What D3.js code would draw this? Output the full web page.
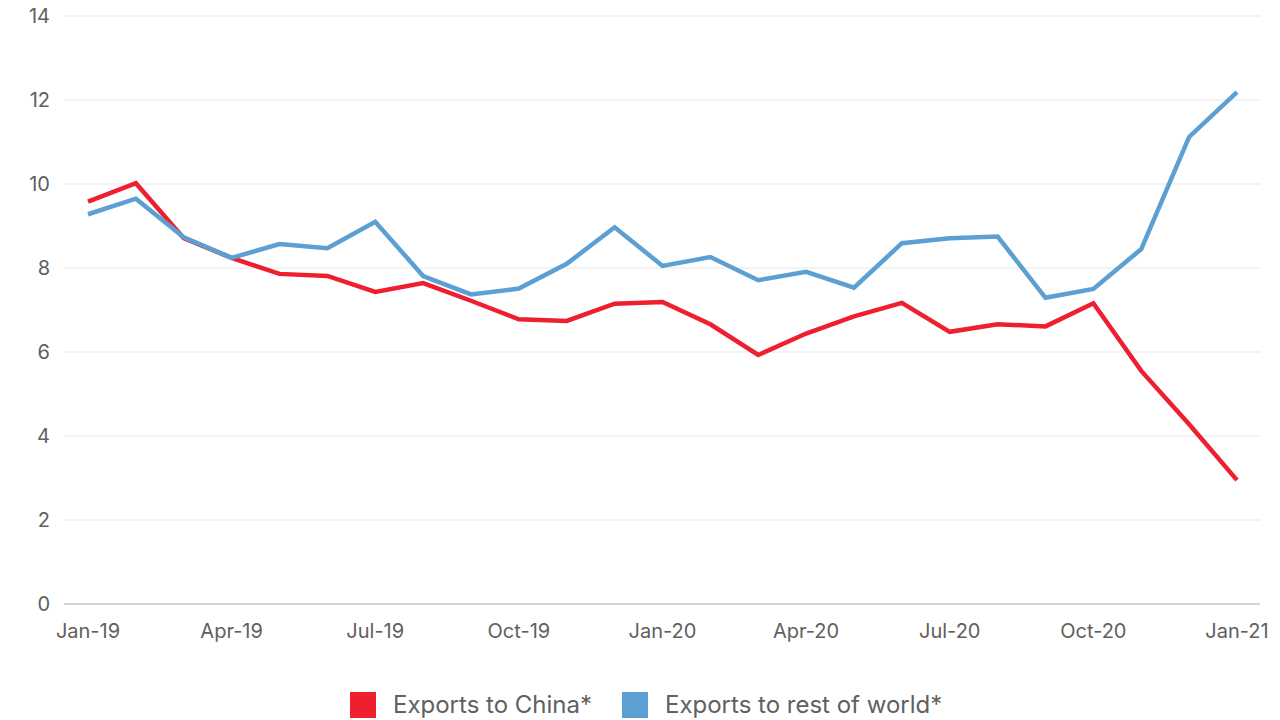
<!DOCTYPE html>
<html><head><meta charset="utf-8">
<script src="https://cdn.jsdelivr.net/npm/d3@7"></script>
<style>
html,body{margin:0;padding:0;background:#fff;}
svg text{font-family:Inter,"Open Sans",sans-serif;fill:#606060;}
</style></head>
<body><svg id="c" width="1280" height="720"></svg>
<script>
const months = ["Jan-19","Feb-19","Mar-19","Apr-19","May-19","Jun-19","Jul-19","Aug-19","Sep-19","Oct-19","Nov-19","Dec-19",
"Jan-20","Feb-20","Mar-20","Apr-20","May-20","Jun-20","Jul-20","Aug-20","Sep-20","Oct-20","Nov-20","Dec-20","Jan-21"];
const tickLabels = ["Jan-19","Apr-19","Jul-19","Oct-19","Jan-20","Apr-20","Jul-20","Oct-20","Jan-21"];
const yTicks = [0,2,4,6,8,10,12,14];
const china = [9.58,10.02,8.71,8.24,7.86,7.81,7.43,7.64,7.22,6.78,6.74,7.15,7.19,6.66,5.93,6.44,6.85,7.17,6.48,6.66,6.61,7.16,5.55,4.28,2.95];
const rest = [9.28,9.65,8.73,8.24,8.57,8.47,9.1,7.81,7.37,7.51,8.1,8.97,8.05,8.26,7.71,7.91,7.53,8.59,8.71,8.75,7.29,7.5,8.45,11.12,12.19];
const seriesNames = ["Exports to China*","Exports to rest of world*"];
const colors = ["#ee1f2f","#5b9fd3"];

const svg = d3.select("#c");
const x = d3.scalePoint().domain(months).range([88,1237]);
const y = d3.scaleLinear().domain([0,14]).range([604,16]);

// grid
svg.append("g").selectAll("line").data(yTicks).join("line")
  .attr("x1",64).attr("x2",1260)
  .attr("y1",d=>y(d)).attr("y2",d=>y(d))
  .attr("stroke",d=>d===0?"#c8c8c8":"#e8e8e8").attr("stroke-width",d=>d===0?1.5:1.2);

// y labels
svg.append("g").selectAll("text").data(yTicks).join("text")
  .attr("x",50).attr("y",d=>y(d)).attr("dy","0.35em")
  .attr("text-anchor","end").attr("font-size",20).text(d=>d);

// x labels
svg.append("g").selectAll("text").data(tickLabels).join("text")
  .attr("x",d=>x(d)).attr("y",638).attr("text-anchor","middle")
  .attr("font-size",20).text(d=>d);

const line = d3.line().x((d,i)=>x(months[i])).y(d=>y(d));
[china,rest].forEach((s,k)=>{
  svg.append("path").datum(s).attr("d",line).attr("fill","none")
    .attr("stroke",colors[k]).attr("stroke-width",4.5)
    .attr("stroke-linejoin","miter").attr("stroke-linecap","butt");
});

// legend
const lg = svg.append("g");
const lx = [350,622];
seriesNames.forEach((n,k)=>{
  lg.append("rect").attr("x",lx[k]).attr("y",692).attr("width",26).attr("height",26).attr("fill",colors[k]);
  lg.append("text").attr("x",lx[k]+43).attr("y",705).attr("dy","0.35em").attr("font-size",24).text(n);
});
</script></body></html>
